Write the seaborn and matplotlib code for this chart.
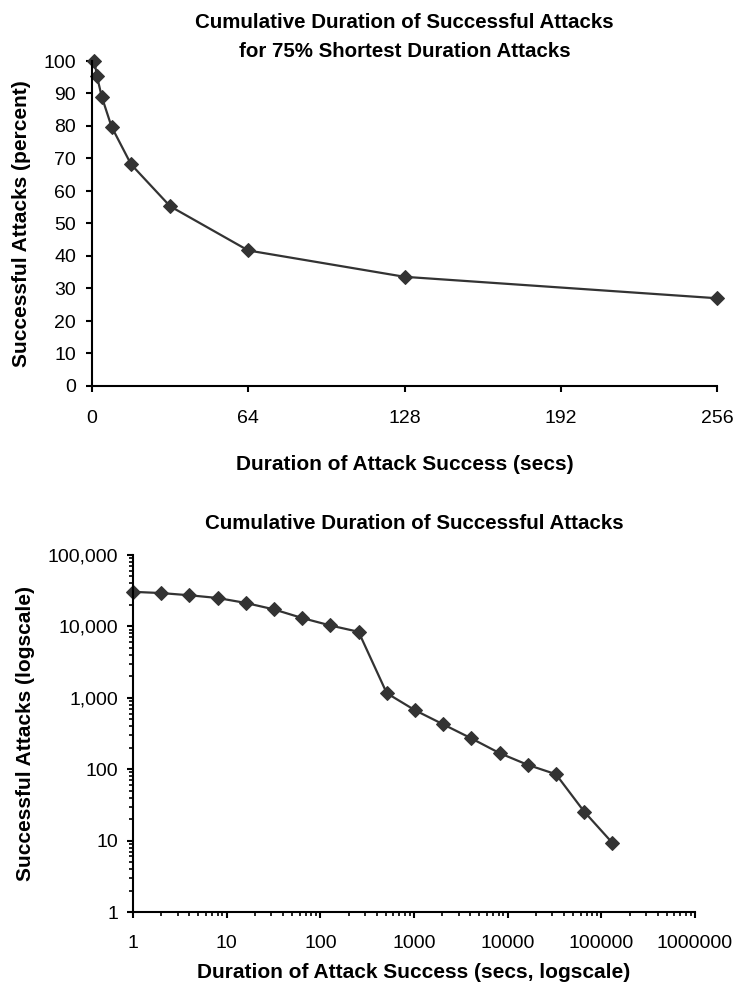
import matplotlib
matplotlib.use("Agg")
import matplotlib.pyplot as plt
import matplotlib.ticker as mticker
import pandas as pd
import seaborn as sns

# top panel: 75% shortest attacks, linear scale
short_secs = [1, 2, 4, 8, 16, 32, 64, 128, 256]
short_pct = [100, 95.4, 89.0, 79.8, 68.2, 55.3, 41.7, 33.6, 27.0]

# bottom panel: all attacks, log-log
all_secs = [1, 2, 4, 8, 16, 32, 64, 128, 256, 512, 1024, 2048,
            4096, 8192, 16384, 32768, 65536, 131072]
all_counts = [30500, 29300, 27300, 25000, 21300, 17300, 13100, 10300, 8400,
              1160, 670, 425, 270, 168, 115, 85, 25.5, 9.3]

top_xticks = [0, 64, 128, 192, 256]
top_yticks = list(range(0, 101, 10))

sns.set_style("ticks")
plt.rcParams["font.family"] = ["Liberation Sans", "DejaVu Sans"]
plt.rcParams["text.color"] = "black"
plt.rcParams["axes.labelcolor"] = "black"
plt.rcParams["axes.linewidth"] = 1.5
plt.rcParams["xtick.major.width"] = 1.5
plt.rcParams["ytick.major.width"] = 1.5
plt.rcParams["xtick.minor.width"] = 1.2
plt.rcParams["ytick.minor.width"] = 1.2
plt.rcParams["xtick.major.size"] = 4.5
plt.rcParams["ytick.major.size"] = 4.5
plt.rcParams["xtick.minor.size"] = 3
plt.rcParams["ytick.minor.size"] = 3
plt.rcParams["xtick.color"] = "black"
plt.rcParams["ytick.color"] = "black"
plt.rcParams["axes.edgecolor"] = "black"

line_col = "#333333"
tick_fs = 14
label_fs = 15

fig = plt.figure(figsize=(7.36, 9.88), dpi=100)
ax1 = fig.add_axes([92 / 736, 1 - 386 / 988, (717 - 92) / 736, (386 - 61) / 988])
ax2 = fig.add_axes([133 / 736, 1 - 912 / 988, (695 - 133) / 736, (912 - 555) / 988])

df1 = pd.DataFrame({"secs": short_secs, "pct": short_pct})
sns.lineplot(data=df1, x="secs", y="pct", ax=ax1, color=line_col, lw=1.6,
             marker="D", markersize=7.5, markeredgecolor=line_col, clip_on=False)
ax1.set_xlim(0, 256)
ax1.set_ylim(0, 100)
ax1.set_xticks(top_xticks)
ax1.set_yticks(top_yticks)
ax1.tick_params(labelsize=tick_fs)
ax1.tick_params(axis="x", pad=13)
ax1.tick_params(axis="y", pad=7)
ax1.set_xlabel("Duration of Attack Success (secs)", fontsize=label_fs,
               fontweight="bold", labelpad=20)
ax1.set_ylabel("Successful Attacks (percent)", fontsize=label_fs,
               fontweight="bold", labelpad=9)
ax1.set_title("Cumulative Duration of Successful Attacks\n"
              "for 75% Shortest Duration Attacks",
              fontsize=14.8, fontweight="bold", pad=3, linespacing=1.65)
sns.despine(ax=ax1)

df2 = pd.DataFrame({"secs": all_secs, "count": all_counts})
sns.lineplot(data=df2, x="secs", y="count", ax=ax2, color=line_col, lw=1.6,
             marker="D", markersize=7.5, markeredgecolor=line_col, clip_on=False)
ax2.set_xscale("log")
ax2.set_yscale("log")
ax2.set_xlim(1, 1e6)
ax2.set_ylim(1, 1e5)
ax2.xaxis.set_major_formatter(mticker.FuncFormatter(lambda v, p: "%d" % round(v)))
ax2.yaxis.set_major_formatter(mticker.FuncFormatter(lambda v, p: "{:,}".format(int(round(v)))))
ax2.xaxis.set_minor_formatter(mticker.NullFormatter())
ax2.yaxis.set_minor_formatter(mticker.NullFormatter())
ax2.tick_params(labelsize=tick_fs)
ax2.tick_params(axis="x", which="major", pad=12)
ax2.tick_params(axis="y", which="major", pad=6)
ax2.set_xlabel("Duration of Attack Success (secs, logscale)", fontsize=label_fs,
               fontweight="bold", labelpad=8)
ax2.set_ylabel("Successful Attacks (logscale)", fontsize=label_fs,
               fontweight="bold", labelpad=9)
ax2.set_title("Cumulative Duration of Successful Attacks",
              fontsize=14.8, fontweight="bold", pad=19)
sns.despine(ax=ax2)

fig.savefig("out.png", dpi=100)
